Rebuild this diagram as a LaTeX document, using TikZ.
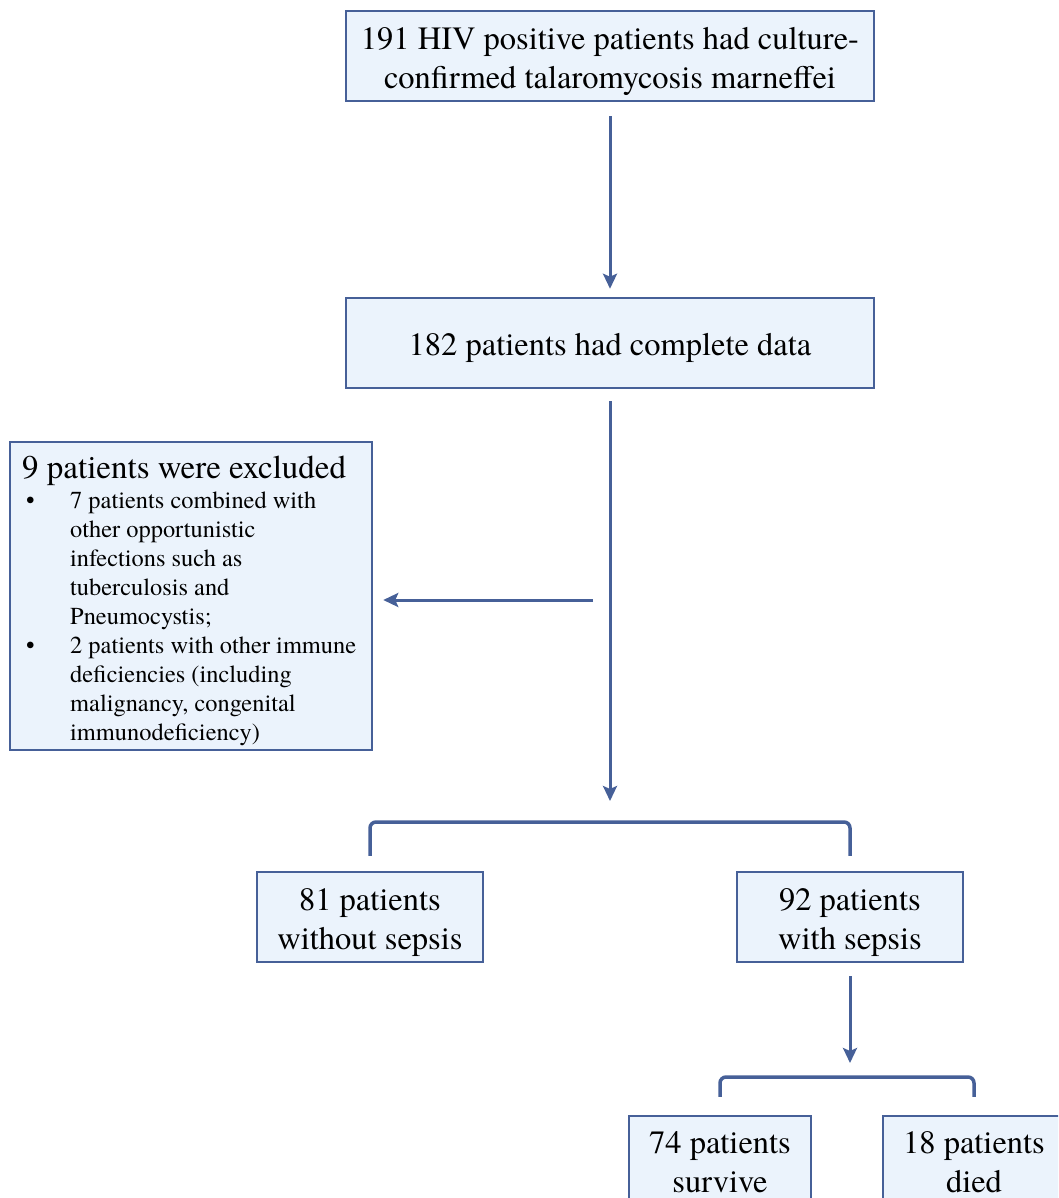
\documentclass[tikz,border=0pt]{standalone}
\usepackage{fontspec}
\setmainfont{TeX Gyre Termes}
\usetikzlibrary{arrows.meta}
\definecolor{lineblue}{RGB}{70,96,152}
\definecolor{boxfill}{RGB}{235,243,252}
\begin{document}
\begin{tikzpicture}[x=1pt,y=-1pt,
  box/.style 2 args={draw=lineblue, fill=boxfill, line width=2.5pt, minimum width=#1, minimum height=#2, inner sep=0pt, align=center, font=\fontsize{32.5}{39}\selectfont},
  oneline/.style={text height=33pt},
  twoline/.style={text height=73pt},
  twolinelow/.style={text height=64pt},
  plainbox/.style 2 args={draw=lineblue, fill=boxfill, line width=2.5pt, minimum width=#1, minimum height=#2, inner sep=0pt},
  flowarrow/.style={draw=lineblue, line width=3pt, -{Stealth[length=15pt,width=14pt,inset=3pt]}},
  bracketline/.style={draw=lineblue, line width=3.5pt, rounded corners=6pt},
  bigtext/.style={font=\fontsize{33}{39}\selectfont, inner sep=0pt},
  smalltext/.style={font=\fontsize{24.4}{29}\selectfont, inner sep=0pt, align=left}]
\useasboundingbox (0,0) rectangle (1058,1198);
\clip (0,0) rectangle (1058,1198);

% boxes
\node[box={528}{90}, twoline] (n191) at (610,56) {191 HIV positive patients had culture-\\confirmed talaromycosis marneffei};
\node[box={528}{90}, oneline] (n182) at (610,343) {182 patients had complete data};
\node[plainbox={362}{308}] (excl) at (191,596) {};
\node[bigtext, anchor=base west] (excltitle) at (22,478) {9 patients were excluded};
\node[smalltext, anchor=north west] (exclitems) at (22,492) {%
\hspace*{4pt}\makebox[44pt][l]{\textbullet}7 patients combined with\\
\hspace*{48pt}other opportunistic\\
\hspace*{48pt}infections such as\\
\hspace*{48pt}tuberculosis and\\
\hspace*{48pt}Pneumocystis;\\
\hspace*{4pt}\makebox[44pt][l]{\textbullet}2 patients with other immune\\
\hspace*{48pt}deficiencies (including\\
\hspace*{48pt}malignancy, congenital\\
\hspace*{48pt}immunodeficiency)};
\node[box={226}{90}, twoline] (n81) at (370,917) {81 patients\\without sepsis};
\node[box={226}{90}, twoline] (n92) at (850,917) {92 patients\\with sepsis};
\node[box={182}{90}, twolinelow] (n74) at (720,1161) {74 patients\\survive};
\node[box={182}{90}, twolinelow] (n18) at (974,1161) {18 patients\\died};

% helper coordinates
\coordinate (br1) at (610,822);
\coordinate (br2) at (850,1077);
\coordinate (exclsrc) at (593,600);

% connectors
\draw[flowarrow, shorten <=14pt, shorten >=8pt] (n191.south) -- (n182.north);
\draw[flowarrow, shorten <=12pt, shorten >=21pt] (n182.south) -- (br1);
\draw[flowarrow, shorten >=10pt] (exclsrc) -- (excl.east |- exclsrc);
\draw[bracketline] ([yshift=15pt]n81.north) |- (br1) -| ([yshift=15pt]n92.north);
\draw[flowarrow, shorten <=13pt, shorten >=14pt] (n92.south) -- (br2);
\draw[bracketline] ([yshift=18pt]n74.north) |- (br2) -| ([yshift=18pt]n18.north);
\end{tikzpicture}
\end{document}
